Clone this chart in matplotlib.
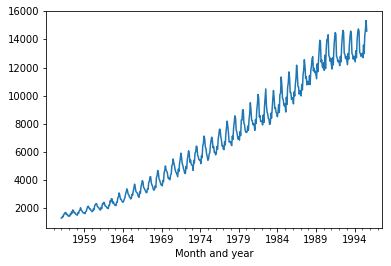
import numpy as np
import pandas as pd
import matplotlib
matplotlib.use("Agg")
import matplotlib.pyplot as plt
import matplotlib.dates as mdates
from matplotlib.ticker import FixedLocator

# monthly values, Jan 1956 .. Aug 1995
elec_1956_1965 = [
    1254, 1290, 1379, 1346, 1535, 1555, 1655, 1651, 1500, 1538, 1486, 1394,
    1409, 1387, 1543, 1502, 1693, 1616, 1841, 1787, 1631, 1649, 1586, 1500,
    1497, 1463, 1648, 1595, 1777, 1824, 1994, 1835, 1787, 1699, 1633, 1645,
    1597, 1577, 1709, 1756, 1936, 2052, 2105, 2016, 1914, 1925, 1824, 1765,
    1721, 1752, 1914, 1857, 2159, 2195, 2287, 2276, 2096, 2055, 2004, 1924,
    1851, 1839, 2019, 1937, 2270, 2251, 2382, 2364, 2129, 2110, 2072, 1980,
    1995, 1932, 2171, 2162, 2489, 2424, 2641, 2630, 2324, 2412, 2284, 2186,
    2184, 2144, 2379, 2383, 2717, 2774, 3051, 2891, 2613, 2600, 2493, 2410,
    2390, 2463, 2616, 2734, 2970, 3125, 3342, 3207, 2964, 2919, 2764, 2732,
    2622, 2698, 2950, 2895, 3200, 3408, 3679, 3473, 3154, 3107, 3052, 2918,
]
elec_1966_1975 = [
    2786, 2739, 3125, 3033, 3486, 3661, 3927, 3851, 3456, 3390, 3280, 3166,
    3080, 3069, 3340, 3310, 3798, 3883, 4191, 4213, 3766, 3628, 3520, 3322,
    3250, 3287, 3552, 3440, 4153, 4265, 4655, 4492, 4051, 3967, 3807, 3639,
    3647, 3560, 3929, 3858, 4485, 4697, 4977, 4675, 4596, 4491, 4127, 4144,
    4014, 3994, 4320, 4400, 5002, 5091, 5471, 5193, 4997, 4737, 4546, 4498,
    4350, 4206, 4743, 4582, 5191, 5457, 5891, 5618, 5158, 5030, 4800, 4654,
    4453, 4440, 4945, 4788, 5425, 5706, 6061, 5846, 5242, 5408, 5114, 5042,
    5008, 4657, 5359, 5193, 5891, 5980, 6390, 6366, 5756, 5640, 5429, 5398,
    5413, 5141, 5695, 5554, 6369, 6592, 7107, 6917, 6353, 6205, 5830, 5646,
    5379, 5489, 5824, 5907, 6482, 6795, 7028, 6776, 6274, 6362, 5940, 5958,
]
elec_1976_1985 = [
    5769, 5887, 6367, 6165, 6868, 7201, 7601, 7581, 7090, 6841, 6408, 6435,
    6176, 6138, 6717, 6470, 7312, 7763, 8171, 7788, 7311, 6679, 6704, 6724,
    6552, 6427, 7105, 6869, 7683, 8082, 8555, 8386, 7553, 7398, 7112, 6886,
    7077, 6820, 7426, 7143, 8261, 8240, 8977, 8991, 8026, 7911, 7510, 7381,
    7366, 7414, 7824, 7524, 8279, 8707, 9486, 8973, 8231, 8206, 7927, 7999,
    7834, 7521, 8284, 7999, 8940, 9381, 10078, 9796, 8471, 8572, 8150, 8168,
    8166, 7903, 8606, 8071, 9178, 9873, 10476, 9296, 8818, 8697, 8381, 8293,
    7942, 8001, 8744, 8397, 9115, 9773, 10358, 9849, 9083, 9143, 8800, 8741,
    8492, 8795, 9354, 8796, 10072, 10174, 11326, 10744, 9806, 9740, 9373, 9244,
    9407, 8827, 9880, 9364, 10580, 10899, 11687, 11280, 10208, 10212, 9725, 9721,
]
elec_1986_1995 = [
    9846, 9407, 10265, 9970, 10801, 11246, 12167, 11578, 10645, 10613, 10104, 10348,
    10263, 9973, 10803, 10409, 11458, 11845, 12559, 12070, 11221, 11338, 10761, 11012,
    10923, 10790, 11427, 10788, 11772, 12104, 12634, 12772, 11764, 11956, 11646, 11750,
    11485, 11198, 12265, 11704, 12419, 13259, 13945, 13839, 12387, 12546, 12038, 11977,
    12336, 11793, 12877, 11923, 13306, 13988, 14002, 14338, 12867, 12761, 12449, 12658,
    12213, 11891, 12695, 12181, 13387, 14080, 14488, 14387, 12788, 12719, 12420, 12514,
    12365, 12131, 12797, 12404, 13528, 14200, 14646, 14528, 13012, 12941, 12640, 12795,
    12500, 12200, 13000, 12600, 13600, 14200, 14600, 14400, 13000, 12900, 12600, 12800,
    12600, 12400, 13200, 12700, 13900, 14500, 14750, 14600, 13100, 13000, 12800, 12950,
    13000, 12700, 13600, 13000, 14300, 14700, 15350, 14600,
]
tick_years = [1959, 1964, 1969, 1974, 1979, 1984, 1989, 1994]

values = elec_1956_1965 + elec_1966_1975 + elec_1976_1985 + elec_1986_1995
months = pd.date_range("1956-01-01", periods=len(values), freq="MS")

fig = plt.figure(figsize=(391 / 72, 266 / 72), dpi=72)
ax = fig.add_axes([46 / 391, 38 / 266, 336 / 391, 217.3 / 266])
ax.plot(months, values, color="#1f77b4", lw=1.5)

ax.xaxis.set_major_locator(FixedLocator([mdates.date2num(pd.Timestamp(f"{y}-01-01")) for y in tick_years]))
ax.xaxis.set_major_formatter(mdates.DateFormatter("%Y"))
ax.xaxis.set_minor_locator(mdates.YearLocator(1))
ax.set_xlabel("Month and year")

fig.savefig("out.png", dpi=72)
